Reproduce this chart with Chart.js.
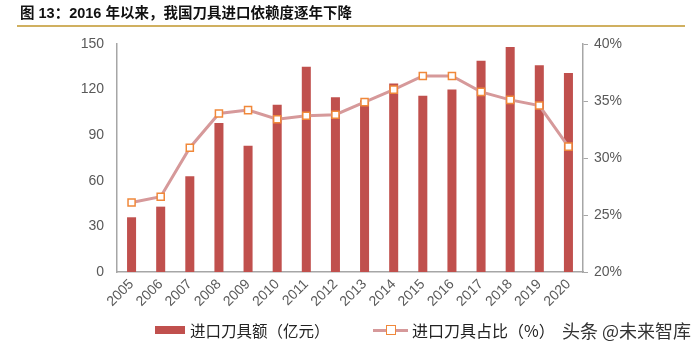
<!DOCTYPE html>
<html lang="zh">
<head>
<meta charset="UTF-8">
<title>刀具进口</title>
<script src="https://cdn.jsdelivr.net/npm/chart.js"></script>
<style>
  body { margin: 0; background: #fff; font-family: "Liberation Sans", "Noto Sans CJK SC", sans-serif; }
  #wrap { position: relative; width: 700px; height: 348px; overflow: hidden; }
  #title { position: absolute; left: 20px; top: 4px; font-size: 14.5px; font-weight: bold; color: #111; line-height: 18px;
           font-family: "Liberation Sans", "Noto Sans CJK SC", sans-serif; }
  #rule { position: absolute; left: 17px; top: 25px; width: 668px; height: 2px; background: #d0b060; }
  canvas { position: absolute; left: 0; top: 0; }
  .leg { position: absolute; top: 320px; line-height: 20px; font-size: 15.5px; color: #222; font-family: "Noto Sans CJK SC", sans-serif; }
  .box { position: absolute; left: 155px; top: 326px; width: 30px; height: 8px; background: #c0504d; }
  .ln { position: absolute; left: 373px; top: 329px; width: 35px; height: 3px; background: #d6999a; }
  .mk { position: absolute; left: 386px; top: 325px; width: 8px; height: 8px; background: #fff; border: 1.5px solid #f0883a; }
  #wm { position: absolute; left: 562px; top: 319px; line-height: 22px; font-size: 18px; color: #333; font-family: "Noto Sans CJK SC", sans-serif; }
</style>
</head>
<body>
<div id="wrap">
  <canvas id="c" width="700" height="348"></canvas>
  <div id="title">图 13：2016 年以来，我国刀具进口依赖度逐年下降</div>
  <div id="rule"></div>
  <div class="box"></div>
  <div class="leg" style="left:190px">进口刀具额（亿元）</div>
  <div class="ln"></div>
  <div class="mk"></div>
  <div class="leg" style="left:412px; font-size:16px">进口刀具占比（%）</div>
  <div id="wm">头条 @未来智库</div>
</div>
<script>
const years = ["2005","2006","2007","2008","2009","2010","2011","2012","2013","2014","2015","2016","2017","2018","2019","2020"];
const importValue = [36, 43, 63, 98, 83, 110, 135, 115, 113, 124, 116, 120, 139, 148, 136, 131];
const importShare = [26.1, 26.6, 30.9, 33.9, 34.2, 33.4, 33.7, 33.8, 34.9, 36.0, 37.2, 37.2, 35.8, 35.1, 34.6, 31.0];

const tickFont = { family: "Liberation Sans", size: 14 };
const tickColor = "#595959";
const axisColor = "#a6a6a6";

new Chart(document.getElementById("c"), {
  data: {
    labels: years,
    datasets: [
      {
        type: "line",
        label: "进口刀具占比（%）",
        data: importShare,
        yAxisID: "y1",
        borderColor: "#d6999a",
        borderWidth: 3,
        pointStyle: "rect",
        pointRadius: 5,
        pointBackgroundColor: "#fff",
        pointBorderColor: "#f0883a",
        pointBorderWidth: 1.5,
        tension: 0,
        order: 0
      },
      {
        type: "bar",
        label: "进口刀具额（亿元）",
        data: importValue,
        yAxisID: "y",
        backgroundColor: "#c0504d",
        barPercentage: 0.31,
        categoryPercentage: 1,
        order: 1
      }
    ]
  },
  options: {
    responsive: false,
    animation: false,
    layout: { padding: { top: 44, left: 0, right: 0, bottom: 0 } },
    plugins: { legend: { display: false }, tooltip: { enabled: false } },
    scales: {
      x: {
        grid: { display: false, drawTicks: false },
        border: { color: axisColor, width: 1.5 },
        ticks: { color: tickColor, font: tickFont, minRotation: 45, maxRotation: 45, padding: 4 },
        afterFit: s => { s.height = 76; }
      },
      y: {
        position: "left",
        min: 0, max: 150,
        grid: { display: false, drawOnChartArea: false, drawTicks: true, tickLength: 5, color: axisColor },
        border: { color: axisColor, width: 1.5 },
        ticks: { stepSize: 30, color: tickColor, font: tickFont, padding: 8 },
        afterFit: s => { s.width = 117; }
      },
      y1: {
        position: "right",
        min: 20, max: 40,
        grid: { display: true, drawOnChartArea: false, drawTicks: true, tickLength: 5, color: axisColor },
        border: { color: axisColor, width: 1.5 },
        ticks: { stepSize: 5, color: tickColor, font: tickFont, padding: 6, callback: v => v + "%" },
        afterFit: s => { s.width = 117; }
      }
    }
  }
});
</script>
</body>
</html>
